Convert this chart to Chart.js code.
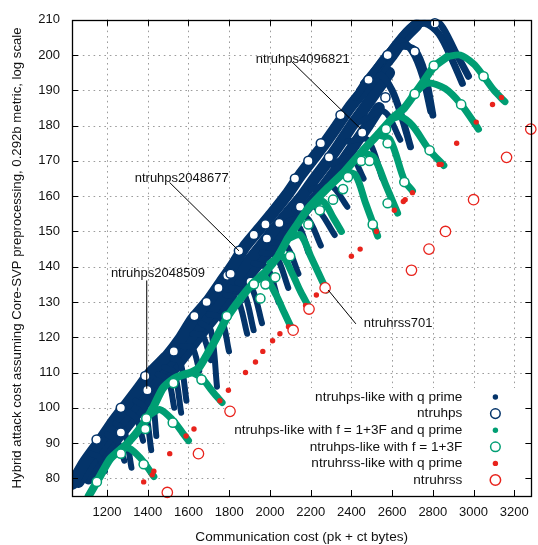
<!DOCTYPE html>
<html>
<head>
<meta charset="utf-8">
<script src="https://cdn.jsdelivr.net/npm/chart.js@4.4.1/dist/chart.umd.min.js"></script>
<style>
  html, body { margin: 0; padding: 0; background: #fff; }
</style>
</head>
<body>
<canvas id="grafico" width="538" height="545"></canvas>
<script>
// ticks
const xTicks = [1200, 1400, 1600, 1800, 2000, 2200, 2400, 2600, 2800, 3000, 3200];
const yTicks = [80, 90, 100, 110, 120, 130, 140, 150, 160, 170, 180, 190, 200, 210];

// ntruhps-like with q prime: corpo da faixa (3 fios), dedos e arcos do topo
const navyBody = [
  [[1030,78.5],[1090,84.5],[1165,90.5],[1230,96],[1290,100.5],[1350,105],[1415,110],[1500,115],[1560,119.5],[1620,125],[1700,130.5],[1760,135.5],[1820,140.5],[1880,146],[1945,150.5],[2010,155],[2085,160.5],[2150,166],[2210,170.5],[2270,175],[2325,179.5],[2390,185],[2460,190],[2530,195],[2600,200],[2660,205],[2720,208.5]],
  [[1060,79],[1120,84.5],[1188,90],[1255,95],[1325,100],[1390,105],[1460,110],[1535,115],[1610,120],[1680,125],[1745,130],[1810,135],[1875,140],[1945,145],[2012,150],[2085,155],[2158,160],[2220,165],[2285,170],[2345,175],[2402,180],[2465,185],[2525,190],[2585,195]],
  [[1110,80],[1160,84.5],[1210,88.5],[1285,94],[1360,99.5],[1430,104.5],[1505,109.5],[1575,114.5],[1640,119.5],[1715,125],[1790,130],[1860,135],[1930,140],[2005,145],[2080,150],[2155,155],[2230,160],[2295,165],[2360,170],[2420,175],[2480,180],[2535,185]]
];
const navyFingers = [
  [[1120,87],[1160,86],[1190,82]],
  [[1200,92.5],[1250,90.5],[1285,85]],
  [[1240,95.5],[1285,93.5],[1320,83]],
  [[1300,99],[1345,97],[1377,90.7]],
  [[1340,102],[1385,100],[1417,88]],
  [[1390,105.5],[1420,104],[1442,92]],
  [[1450,109.5],[1500,108],[1530,100]],
  [[1480,111.5],[1530,110],[1564,98.6]],
  [[1520,114],[1560,113],[1590,102]],
  [[1570,117.5],[1620,117],[1653,110.5]],
  [[1620,121],[1670,120.5],[1709,113.5]],
  [[1660,124],[1710,122],[1740,106]],
  [[1700,126.5],[1760,125.5],[1799,116]],
  [[1780,132],[1840,131],[1888,121]],
  [[1810,134],[1870,133],[1920,122]],
  [[1840,135.5],[1910,134],[1961,124]],
  [[1920,141],[1990,139.5],[2042,130]],
  [[1960,144],[2030,143],[2090,134]],
  [[2000,147],[2080,146],[2140,138]],
  [[2060,151],[2140,151.5],[2189,144]],
  [[2090,153],[2180,154],[2250,146]],
  [[2120,156],[2220,157],[2318,149]],
  [[2200,162],[2300,163],[2380,157]],
  [[2300,169],[2400,171],[2460,165]],
  [[2380,175.5],[2480,176],[2552,165]],
  [[2440,181],[2560,184],[2640,176]]
];
const navyTops = [
  [[2420,188],[2500,194.5],[2578,200.5],[2650,202.5],[2711,201.5],[2760,195],[2800,183]],
  [[2460,192],[2560,199],[2640,204],[2700,201],[2750,194],[2790,184]],
  [[2530,196],[2620,203.5],[2700,208.5],[2780,210.3],[2840,208.5],[2910,201],[2975,194]],
  [[2600,201],[2680,207],[2760,209],[2830,206],[2900,198],[2945,192]],
  [[2440,190],[2484,193.5],[2540,194.5],[2600,190],[2650,182],[2690,174]]
];

// ntruhps-like with f = 1+3F and q prime: espinha e caudas
const greenSpine = [
  [1110,75],[1160,80],[1215,85.5],[1296,89.7],[1377,95.3],[1430,100.5],[1474,105.5],[1530,108.3],
  [1571,109.3],[1620,110.2],[1653,111.5],[1700,116],[1734,119.5],[1788,125.5],[1856,131],[1921,135.5],
  [1978,138.5],[2040,143],[2091,148.3],[2140,152.5],[2189,156.6],[2286,162.5],[2367,167],[2450,172.5],
  [2530,177.5],[2600,182],[2660,185],[2711,189],[2760,193],[2805,196.7],[2870,199.5]
];
const greenTails = [
  [[1270,88.5],[1310,88.5],[1360,86],[1400,83],[1430,80.5]],
  [[1410,98],[1460,99.5],[1523,96.5],[1570,93],[1600,90.7]],
  [[1620,110],[1664,108.5],[1720,104.5],[1765,101.5]],
  [[1920,135.5],[1975,137],[2030,132],[2070,127],[2107,122.5]],
  [[2000,141],[2060,143],[2110,138],[2150,133],[2192,128.5]],
  [[2090,148],[2150,149],[2200,143],[2240,138],[2278,133.4]],
  [[2200,157],[2260,158.5],[2310,154],[2351,150]],
  [[2367,167],[2420,166],[2470,158],[2505,152.5],[2529,148.7]],
  [[2450,172.5],[2510,171],[2570,163],[2627,155.2]],
  [[2530,177.5],[2590,176],[2660,164.5],[2700,161.5]],
  [[2600,182],[2643,182.5],[2700,180],[2784,173],[2854,168.7]],
  [[2700,188.5],[2773,192],[2860,190.5],[2939,186],[3024,179]],
  [[2870,199.5],[2935,200],[3000,197.5],[3049,194],[3100,190],[3154,186.8]]
];

// ntruhps
const navyCircles = [
  [1149,91],[1268,93],[1268,100],[1388,109],[1398,105],[1528,116],[1629,126],[1689,130],
  [1747,134],[1791,137.5],[1807,138],[1848,144.5],[1856,131],[1905,135.7],[1921,149],[1985,148],
  [1978,152],[2046,152.4],[2123,165],[2148,157],[2189,170],[2250,175],[2290,171],[2347,183],
  [2453,178],[2484,193],[2567,188],[2578,200],[2711,201],[2810,209]
];

// ntruhps-like with f = 1+3F
const greenCircles = [
  [1150,79],[1268,87],[1380,84],[1388,94],[1393,97],[1523,95.8],[1526,107],[1664,108],
  [1788,126],[1921,135],[1953,131],[1978,135],[2026,137],[2099,143],[2189,152],[2245,156],
  [2310,159],[2359,162],[2383,165.4],[2448,170],[2489,170],[2505,152],[2570,179],[2578,175],
  [2578,158],[2660,164],[2711,189],[2784,173],[2805,197],[2939,186],[3049,194]
];

// ntruhrss-like with q prime
const redDots = [
  [1380,79],[1422,81],[1430,82],[1508,87],[1588,92],[1627,94],[1754,102],[1796,105],
  [1880,110],[1929,113],[1965,116],[2013,119],[2049,121],[2091,123],[2175,129],[2228,132],
  [2400,143],[2443,145],[2523,150],[2611,156],[2655,158.5],[2664,159],[2700,161],[2831,169],
  [2841,169],[2917,175],[3013,181],[3093,186],[3137,188]
];

// ntruhrss
const redCircles = [
  [1496,76],[1649,87],[1804,99],[2114,122],[2192,128],[2271,134],
  [2695,139],[2781,145],[2862,150],[3000,159],[3162,171],[3281,179]
];

const legendLabels = [
  'ntruhps-like with q prime',
  'ntruhps',
  'ntruhps-like with f = 1+3F and q prime',
  'ntruhps-like with f = 1+3F',
  'ntruhrss-like with q prime',
  'ntruhrss'
];

const AZUL = '#04346a';
const VERDE = '#009e73';
const VERMELHO = '#e8231c';
const FONTE = '"Liberation Sans", Arial, sans-serif';

const pontos = lista => lista.map(p => ({ x: p[0], y: p[1] }));

function curva(lista, cor, larg, tensao, ordem) {
  return {
    data: pontos(lista),
    showLine: true,
    borderColor: cor,
    backgroundColor: cor,
    borderWidth: larg,
    borderCapStyle: 'round',
    borderJoinStyle: 'round',
    tension: tensao,
    pointRadius: 0,
    fill: false,
    order: ordem
  };
}

function circulos(lista, cor, raio, borda, fundo, ordem) {
  return {
    data: pontos(lista),
    showLine: false,
    pointStyle: 'circle',
    pointRadius: raio,
    pointBorderWidth: borda,
    pointBorderColor: cor,
    pointBackgroundColor: fundo,
    borderColor: cor,
    backgroundColor: fundo,
    clip: false,
    order: ordem
  };
}

let datasets = [];
for (const fio of navyBody) datasets.push(curva(fio, AZUL, 12, 0.2, 7));
for (const d of navyFingers) datasets.push(curva(d, AZUL, 6, 0.3, 6));
for (const a of navyTops) datasets.push(curva(a, AZUL, 7, 0.3, 6));
datasets.push(circulos(navyCircles, AZUL, 4.6, 1.5, '#fff', 5));
datasets.push(curva(greenSpine, VERDE, 8, 0.2, 4));
for (const c of greenTails) datasets.push(curva(c, VERDE, 7, 0.3, 4));
datasets.push(circulos(greenCircles, VERDE, 4.6, 1.5, '#fff', 3));
datasets.push(circulos(redDots, VERMELHO, 2.7, 0, VERMELHO, 2));
datasets.push(circulos(redCircles, VERMELHO, 5.2, 1.3, '#fff', 1));

// rótulos com setas (coordenadas nos eixos)
const notas = [
  { texto: 'ntruhps4096821', em: [1930, 198.8], de: [2106, 198.2], ate: [2447, 179] },
  { texto: 'ntruhps2048677', em: [1336, 165.1], de: [1507, 163.9], ate: [1848, 144.5] },
  { texto: 'ntruhps2048509', em: [1219, 138], de: [1395, 136.1], ate: [1395, 105.4] },
  { texto: 'ntruhrss701', em: [2461, 123.8], de: [2422, 123.8], ate: [2286, 133.4] }
];

const moldura = {
  id: 'moldura',
  beforeDatasetsDraw(chart) {
    const { ctx, chartArea: a, scales: { x, y } } = chart;
    ctx.save();
    ctx.strokeStyle = '#9c9c9c';
    ctx.lineWidth = 1;
    ctx.setLineDash([1.6, 3.8]);
    ctx.beginPath();
    for (const v of xTicks) {
      const px = Math.round(x.getPixelForValue(v)) + 0.5;
      ctx.moveTo(px, a.top);
      ctx.lineTo(px, a.bottom);
    }
    for (const v of yTicks) {
      const py = Math.round(y.getPixelForValue(v)) + 0.5;
      ctx.moveTo(a.left, py);
      ctx.lineTo(a.right, py);
    }
    ctx.stroke();
    ctx.setLineDash([]);
    // caixa da legenda (opaca)
    ctx.fillStyle = '#fff';
    ctx.fillRect(a.right - 307, a.bottom - 108, 304, 107);
    ctx.restore();
  },
  afterDraw(chart) {
    const { ctx, chartArea: a, scales: { x, y } } = chart;
    ctx.save();
    ctx.strokeStyle = '#000';
    ctx.lineWidth = 1;
    ctx.beginPath();
    for (const v of xTicks) {
      const px = Math.round(x.getPixelForValue(v)) + 0.5;
      ctx.moveTo(px, a.bottom); ctx.lineTo(px, a.bottom - 6);
      ctx.moveTo(px, a.top); ctx.lineTo(px, a.top + 6);
    }
    for (const v of yTicks) {
      const py = Math.round(y.getPixelForValue(v)) + 0.5;
      ctx.moveTo(a.left, py); ctx.lineTo(a.left + 6, py);
      ctx.moveTo(a.right, py); ctx.lineTo(a.right - 6, py);
    }
    ctx.stroke();
    ctx.lineWidth = 1.3;
    ctx.strokeRect(Math.round(a.left) + 0.5, Math.round(a.top) + 0.5,
      Math.round(a.right - a.left), Math.round(a.bottom - a.top));

    // notas
    ctx.font = '13px ' + FONTE;
    ctx.fillStyle = '#111';
    ctx.textAlign = 'left';
    ctx.textBaseline = 'middle';
    ctx.lineWidth = 1;
    for (const n of notas) {
      ctx.beginPath();
      ctx.moveTo(x.getPixelForValue(n.de[0]), y.getPixelForValue(n.de[1]));
      ctx.lineTo(x.getPixelForValue(n.ate[0]), y.getPixelForValue(n.ate[1]));
      ctx.stroke();
      ctx.fillText(n.texto, x.getPixelForValue(n.em[0]), y.getPixelForValue(n.em[1]));
    }

    // legenda
    const marcas = [
      { cor: AZUL, raio: 2.7, aberto: false },
      { cor: AZUL, raio: 4.8, aberto: true },
      { cor: VERDE, raio: 2.7, aberto: false },
      { cor: VERDE, raio: 4.8, aberto: true },
      { cor: VERMELHO, raio: 2.7, aberto: false },
      { cor: VERMELHO, raio: 5.2, aberto: true }
    ];
    ctx.font = '13.6px ' + FONTE;
    ctx.textAlign = 'right';
    const topo = a.bottom - 99;
    legendLabels.forEach((txt, i) => {
      const ly = topo + i * 16.6;
      ctx.fillStyle = '#111';
      ctx.fillText(txt, a.right - 69, ly);
      const m = marcas[i];
      ctx.beginPath();
      ctx.arc(a.right - 36, ly, m.raio, 0, Math.PI * 2);
      if (m.aberto) {
        ctx.fillStyle = '#fff';
        ctx.fill();
        ctx.strokeStyle = m.cor;
        ctx.lineWidth = 1.5;
        ctx.stroke();
      } else {
        ctx.fillStyle = m.cor;
        ctx.fill();
      }
    });
    ctx.restore();
  }
};

const ctx = document.getElementById('grafico').getContext('2d');
const myChart = new Chart(ctx, {
  type: 'scatter',
  data: { datasets: datasets },
  options: {
    responsive: false,
    animation: false,
    devicePixelRatio: 1,
    layout: { padding: { top: 12, right: 3, left: 0, bottom: 0 } },
    plugins: {
      legend: { display: false },
      tooltip: { enabled: false }
    },
    scales: {
      x: {
        type: 'linear',
        min: 1028,
        max: 3284,
        afterBuildTicks: s => { s.ticks = xTicks.map(v => ({ value: v })); },
        afterFit: s => { s.height = 49; },
        grid: { display: false, drawTicks: false },
        border: { display: false },
        ticks: {
          color: '#111', font: { family: FONTE, size: 13 }, padding: 9,
          maxRotation: 0, autoSkip: false, callback: v => String(v)
        },
        title: {
          display: true,
          text: 'Communication cost (pk + ct bytes)',
          color: '#111',
          font: { family: FONTE, size: 13.6 },
          padding: { top: 0, bottom: 0 }
        }
      },
      y: {
        type: 'linear',
        min: 75,
        max: 210,
        afterBuildTicks: s => { s.ticks = yTicks.map(v => ({ value: v })); },
        afterFit: s => { s.width = 72; },
        grid: { display: false, drawTicks: false },
        border: { display: false },
        ticks: {
          color: '#111', font: { family: FONTE, size: 13 }, padding: 12,
          autoSkip: false, callback: v => String(v)
        },
        title: {
          display: true,
          text: 'Hybrid attack cost assuming Core-SVP preprocessing, 0.292b metric, log scale',
          color: '#111',
          font: { family: FONTE, size: 13.2 },
          padding: { top: 9, bottom: 0 }
        }
      }
    }
  },
  plugins: [moldura]
});
</script>
</body>
</html>
